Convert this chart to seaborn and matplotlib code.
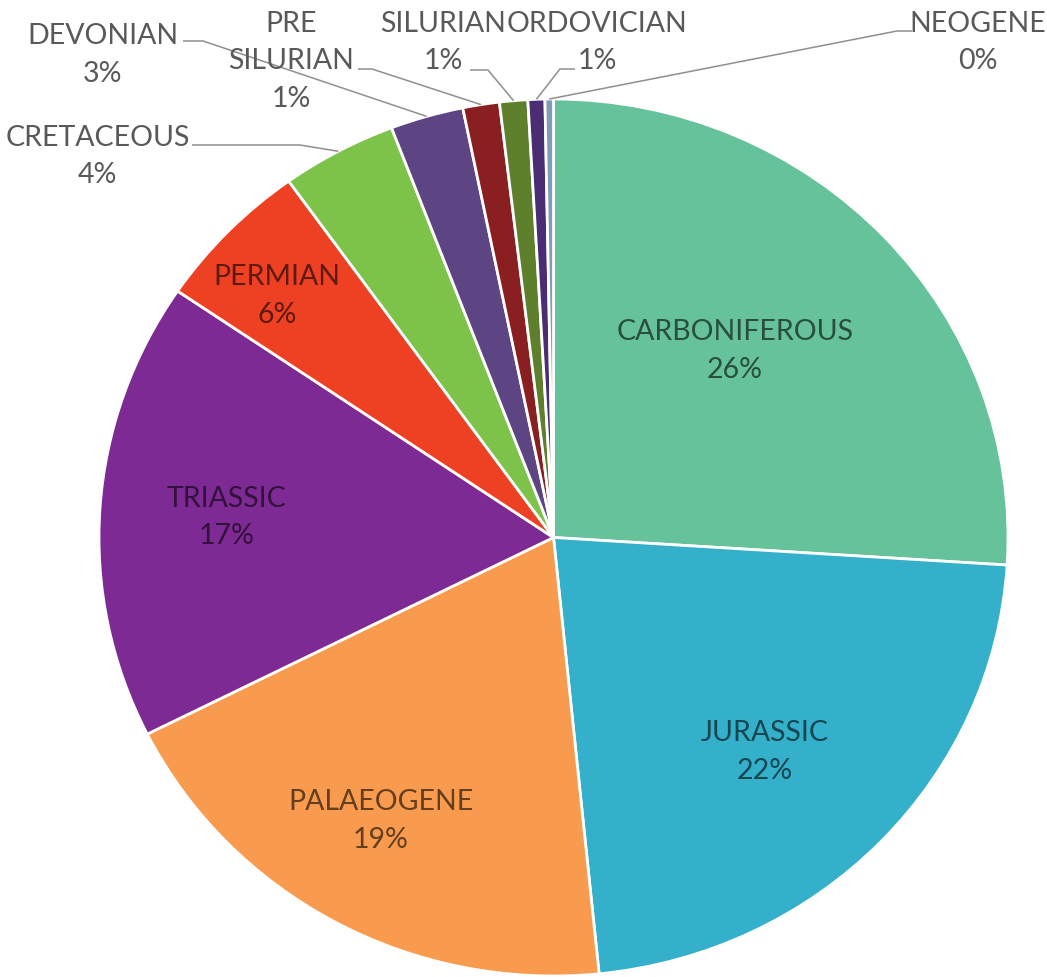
import numpy as np
import matplotlib
matplotlib.use("Agg")
import matplotlib.pyplot as plt
import matplotlib.colors as mcolors
import seaborn as sns

# Share of records by geological period (percent)
periods = ["CARBONIFEROUS", "JURASSIC", "PALAEOGENE", "TRIASSIC", "PERMIAN",
           "CRETACEOUS", "DEVONIAN", "PRE\nSILURIAN", "SILURIAN", "ORDOVICIAN",
           "NEOGENE"]
shares = [26.0, 22.4, 19.2, 16.9, 5.6, 4.1, 2.6, 1.3, 1.0, 0.6, 0.3]
slice_colors = ["#66C29A", "#35B0CB", "#F99B4E", "#7E2A94", "#EE4124",
                "#7DC34A", "#5D4584", "#8A1F22", "#5E7F2B", "#4B2D73",
                "#7F9DB8"]

sns.set_theme(style="white")
plt.rcParams["font.family"] = ["Lato", "DejaVu Sans"]

W, H = 1047, 978
fig = plt.figure(figsize=(W / 100, H / 100), dpi=100)
ax = fig.add_axes([0, 0, 1, 1])

# pie geometry in pixels (slightly wider than tall)
cx, cy, rx, ry = 553.5, 538.5, 454.5, 438.5

palette = sns.color_palette(slice_colors)
wedges, _ = ax.pie(shares, colors=palette, startangle=90, counterclock=False,
                   radius=1.0, wedgeprops=dict(edgecolor="white", linewidth=2.0))

ax.set_aspect("auto")
ax.set_xlim((0 - cx) / rx, (W - cx) / rx)
ax.set_ylim((cy - H) / ry, (cy - 0) / ry)
ax.axis("off")


def px(x, y):
    """pixel position (from top-left) -> data coordinates"""
    return (x - cx) / rx, (cy - y) / ry


def pct(v):
    return "%.0f%%" % (100 * v / sum(shares))


def mid_angle(w):
    return np.deg2rad((w.theta1 + w.theta2) / 2)


FS = 20.5
LS = 1.55

# labels drawn inside the large slices: (radius, angle offset in degrees)
inside = {0: (0.585, 3.8), 1: (0.673, -2.4), 2: (0.748, -1.7),
          3: (0.72, 0.0), 4: (0.822, 2.0)}
for i, (r, dth) in inside.items():
    a = mid_angle(wedges[i]) + np.deg2rad(dth)
    base = np.array(mcolors.to_rgb(slice_colors[i]))
    tc = base * 0.40
    ax.text(r * np.cos(a), r * np.sin(a), f"{periods[i]}\n{pct(shares[i])}",
            ha="center", va="center", fontsize=FS, color=tc,
            linespacing=LS)

# labels placed outside with leader lines:
# text centre, line start, elbow (all in pixels)
outside = {
    5: ((97.5, 156.5), (192, 146), (300, 146)),
    6: ((103, 55), (183, 42), (203, 42)),
    7: ((291, 61.5), (358, 70), (372, 70)),
    8: ((443, 42.5), (470, 71), (488, 71)),
    9: ((597, 42.5), (575, 70), (560, 70)),
    10: ((978, 42.5), (912, 32), (897, 32)),
}
for i, (tpos, start, elbow) in outside.items():
    tx, ty = px(*tpos)
    ax.text(tx, ty, f"{periods[i]}\n{pct(shares[i])}", ha="center",
            va="center", fontsize=FS, color="#595959", linespacing=LS,
            clip_on=False)
    a = mid_angle(wedges[i])
    ex, ey = np.cos(a), np.sin(a)
    sx, sy = px(*start)
    bx, by = px(*elbow)
    ax.plot([sx, bx, ex], [sy, by, ey], color="#8F8F8F", lw=1.1,
            clip_on=False, solid_capstyle="butt")

fig.savefig("out.png", dpi=100, facecolor="white")
